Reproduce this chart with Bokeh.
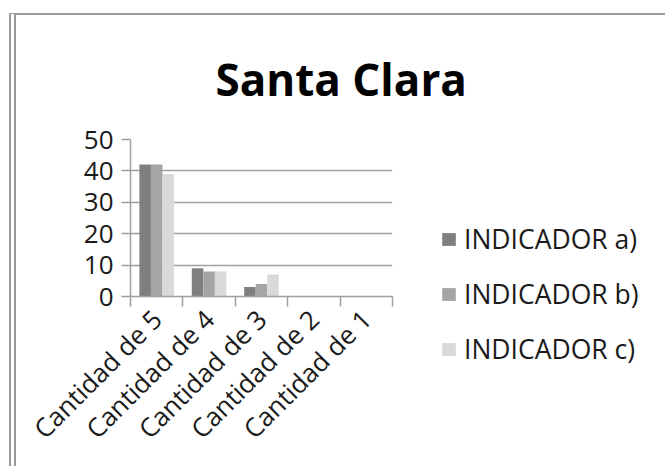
import math
from bokeh.plotting import figure
from bokeh.models import (Range1d, FixedTicker, Legend, LegendItem, ColumnDataSource, Title)
from bokeh.embed import file_html
from bokeh.resources import INLINE

categories = ["Cantidad de 5", "Cantidad de 4", "Cantidad de 3", "Cantidad de 2", "Cantidad de 1"]
series_names = ["INDICADOR a)", "INDICADOR b)", "INDICADOR c)"]
ind_a = [42, 9, 3, 0, 0]
ind_b = [42, 8, 4, 0, 0]
ind_c = [39, 8, 7, 0, 0]
y_ticks = [0, 10, 20, 30, 40, 50]
colors = ["#7f7f7f", "#a5a5a5", "#d9d9d9"]

FONT = "Open Sans"
GRAY = "#a0a0a0"

p = figure(frame_width=262, frame_height=157, output_backend="svg", toolbar_location=None,
           x_range=Range1d(0, len(categories)), y_range=Range1d(0, 50),
           min_border_left=114, min_border_right=272, min_border_top=124, min_border_bottom=170)
p.styles = {"margin-left": "9px", "margin-top": "13px",
            "border-left": "7px double #9a9a9a", "border-top": "2px solid #9a9a9a",
            "border-right": "1px solid #d8d8d8"}
p.outline_line_color = None
p.background_fill_color = "white"
p.border_fill_color = "white"

title = Title(text="Santa Clara", align="left", offset=85, standoff=61,
              text_font=FONT, text_font_size="44px", text_font_style="bold", text_color="black")
p.add_layout(title, "above")

width = 0.22
offsets = [-0.22, 0.0, 0.22]
renderers = []
for vals, off, col in zip([ind_a, ind_b, ind_c], offsets, colors):
    src = ColumnDataSource(dict(x=[i + 0.5 + off for i in range(len(categories))], top=vals))
    r = p.vbar(x="x", top="top", width=width, source=src, fill_color=col, line_color=None)
    renderers.append(r)

# y axis
p.yaxis.ticker = FixedTicker(ticks=y_ticks)
p.yaxis.axis_line_color = GRAY
p.yaxis.axis_line_width = 1.5
p.yaxis.major_tick_line_color = GRAY
p.yaxis.major_tick_line_width = 1.5
p.yaxis.major_tick_out = 9
p.yaxis.major_tick_in = 0
p.yaxis.minor_tick_line_color = None
p.yaxis.major_label_text_font = FONT
p.yaxis.major_label_text_font_size = "26px"
p.yaxis.major_label_text_color = "#1a1a1a"
p.yaxis.major_label_standoff = 8

# x axis
centers = [i + 0.5 for i in range(len(categories))]
p.xaxis.ticker = FixedTicker(ticks=centers, minor_ticks=list(range(len(categories) + 1)))
p.xaxis.major_label_overrides = {c: lab for c, lab in zip(centers, categories)}
p.xaxis.major_label_orientation = math.pi / 4
p.xaxis.major_label_text_font = FONT
p.xaxis.major_label_text_font_size = "26px"
p.xaxis.major_label_text_color = "#1a1a1a"
p.xaxis.major_tick_out = 0
p.xaxis.major_tick_in = 0
p.xaxis.minor_tick_out = 10
p.xaxis.minor_tick_in = 0
p.xaxis.minor_tick_line_color = GRAY
p.xaxis.minor_tick_line_width = 1.5
p.xaxis.axis_line_color = GRAY
p.xaxis.axis_line_width = 1.5
p.xaxis.major_label_standoff = 8

p.xgrid.grid_line_color = None
p.ygrid.grid_line_color = GRAY
p.ygrid.grid_line_width = 1.5

legend = Legend(items=[LegendItem(label=n, renderers=[r]) for n, r in zip(series_names, renderers)],
                location=(48, -71), orientation="vertical",
                label_text_font=FONT, label_text_font_size="26.5px", label_text_color="#1a1a1a",
                glyph_width=17, glyph_height=16, label_standoff=7, spacing=19,
                border_line_color=None, background_fill_alpha=0, padding=0, margin=0)
p.add_layout(legend, "right")

open("out.html", "w").write(file_html(p, INLINE))
